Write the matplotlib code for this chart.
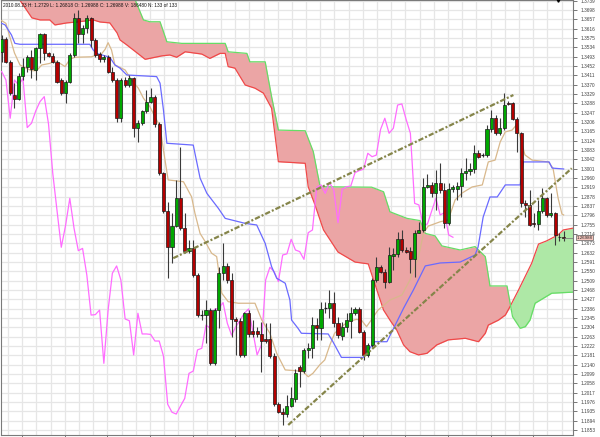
import numpy as np
import matplotlib
matplotlib.use('Agg')
import matplotlib.pyplot as plt
import matplotlib.transforms as mtransforms

plt.rcParams['font.family'] = ['Liberation Sans', 'DejaVu Sans']

header = "2010.08.23 H: 1.2729 L: 1.26818 O: 1.26988 C: 1.26988 V: 186480 N: 133 of 133"

# daily candles, oldest first
opens = [1.3516, 1.3570, 1.3472, 1.3327, 1.3308, 1.3409, 1.3450, 1.3491, 1.3435, 1.3530,
         1.3592, 1.3508, 1.3498, 1.3472, 1.3391, 1.3332, 1.3384, 1.3501, 1.3662, 1.3592,
         1.3618, 1.3662, 1.3567, 1.3504, 1.3482, 1.3491, 1.3428, 1.3391, 1.3223, 1.3391,
         1.3369, 1.3398, 1.3182, 1.3201, 1.3255, 1.3296, 1.3318, 1.3198, 1.2981, 1.2817,
         1.2656, 1.2751, 1.2871, 1.2739, 1.2641, 1.2651, 1.2534, 1.2358, 1.2358, 1.2380,
         1.2146, 1.2380, 1.2542, 1.2574, 1.2512, 1.2341, 1.2333, 1.2183, 1.2366, 1.2288,
         1.2288, 1.2273, 1.2251, 1.2251, 1.2178, 1.1966, 1.1931, 1.1923, 1.1958, 1.1991,
         1.2128, 1.2112, 1.2205, 1.2212, 1.2314, 1.2300, 1.2388, 1.2388, 1.2413, 1.2322,
         1.2266, 1.2307, 1.2333, 1.2366, 1.2385, 1.2285, 1.2183, 1.2227, 1.2512, 1.2568,
         1.2549, 1.2505, 1.2618, 1.2627, 1.2691, 1.2644, 1.2640, 1.2603, 1.2720, 1.2732,
         1.2919, 1.2930, 1.2893, 1.2940, 1.2908, 1.2764, 1.2911, 1.2911, 1.2925, 1.2984,
         1.2993, 1.2999, 1.3069, 1.3061, 1.3061, 1.3174, 1.3223, 1.3157, 1.3179, 1.3289,
         1.3289, 1.3218, 1.3157, 1.2849, 1.2842, 1.2764, 1.2758, 1.2815, 1.2871, 1.2798,
         1.2808, 1.2703, 1.2703]
highs = [1.3589, 1.3582, 1.3479, 1.3376, 1.3420, 1.3486, 1.3501, 1.3523, 1.3538, 1.3596,
         1.3596, 1.3516, 1.3508, 1.3479, 1.3398, 1.3391, 1.3508, 1.3684, 1.3699, 1.3633,
         1.3677, 1.3669, 1.3574, 1.3516, 1.3501, 1.3501, 1.3450, 1.3398, 1.3398, 1.3406,
         1.3413, 1.3406, 1.3215, 1.3259, 1.3347, 1.3355, 1.3325, 1.3208, 1.2988, 1.2856,
         1.2805, 1.2952, 1.3098, 1.2805, 1.2688, 1.2688, 1.2542, 1.2380, 1.2424, 1.2388,
         1.2388, 1.2571, 1.2673, 1.2585, 1.2542, 1.2351, 1.2344, 1.2373, 1.2380, 1.2336,
         1.2307, 1.2329, 1.2322, 1.2322, 1.2190, 1.1978, 1.1948, 1.2007, 1.2043, 1.2120,
         1.2139, 1.2212, 1.2234, 1.2351, 1.2344, 1.2417, 1.2417, 1.2468, 1.2461, 1.2351,
         1.2329, 1.2366, 1.2395, 1.2395, 1.2395, 1.2292, 1.2234, 1.2520, 1.2615, 1.2578,
         1.2559, 1.2659, 1.2651, 1.2725, 1.2732, 1.2659, 1.2659, 1.2732, 1.2768, 1.2959,
         1.2980, 1.2944, 1.2996, 1.3025, 1.2937, 1.2937, 1.2930, 1.2944, 1.3003, 1.3047,
         1.3025, 1.3105, 1.3083, 1.3069, 1.3193, 1.3259, 1.3237, 1.3223, 1.3335, 1.3300,
         1.3296, 1.3230, 1.3164, 1.2864, 1.2908, 1.2805, 1.2864, 1.2915, 1.2878, 1.2893,
         1.2812, 1.2720, 1.2729]
lows = [1.3472, 1.3464, 1.3325, 1.3267, 1.3303, 1.3391, 1.3428, 1.3398, 1.3391, 1.3464,
        1.3479, 1.3494, 1.3464, 1.3376, 1.3325, 1.3289, 1.3376, 1.3494, 1.3552, 1.3552,
        1.3596, 1.3538, 1.3494, 1.3472, 1.3472, 1.3420, 1.3384, 1.3208, 1.3208, 1.3362,
        1.3362, 1.3142, 1.3120, 1.3194, 1.3245, 1.3289, 1.3186, 1.2974, 1.2805, 1.2520,
        1.2585, 1.2747, 1.2732, 1.2629, 1.2629, 1.2527, 1.2351, 1.2336, 1.2234, 1.2139,
        1.2139, 1.2300, 1.2512, 1.2498, 1.2263, 1.2183, 1.2175, 1.2175, 1.2263, 1.2263,
        1.2263, 1.2109, 1.2234, 1.2168, 1.1958, 1.1926, 1.1875, 1.1912, 1.1953, 1.1978,
        1.2043, 1.2102, 1.2168, 1.2168, 1.2248, 1.2248, 1.2366, 1.2344, 1.2307, 1.2256,
        1.2248, 1.2285, 1.2256, 1.2358, 1.2281, 1.2161, 1.2175, 1.2219, 1.2505, 1.2542,
        1.2476, 1.2498, 1.2556, 1.2615, 1.2637, 1.2629, 1.2542, 1.2527, 1.2717, 1.2725,
        1.2915, 1.2878, 1.2820, 1.2893, 1.2739, 1.2754, 1.2900, 1.2864, 1.2878, 1.2952,
        1.2974, 1.2981, 1.3047, 1.3054, 1.3054, 1.3164, 1.3149, 1.3149, 1.3171, 1.3280,
        1.3215, 1.3076, 1.2834, 1.2791, 1.2749, 1.2747, 1.2732, 1.2805, 1.2791, 1.2791,
        1.2666, 1.2685, 1.26818]
closes = [1.3570, 1.3472, 1.3332, 1.3308, 1.3409, 1.3450, 1.3491, 1.3439, 1.3530, 1.3592,
          1.3508, 1.3498, 1.3472, 1.3384, 1.3332, 1.3384, 1.3501, 1.3662, 1.3592, 1.3618,
          1.3662, 1.3567, 1.3501, 1.3483, 1.3491, 1.3428, 1.3391, 1.3223, 1.3391, 1.3369,
          1.3398, 1.3182, 1.3201, 1.3255, 1.3296, 1.3318, 1.3198, 1.2981, 1.2817, 1.2656,
          1.2751, 1.2871, 1.2739, 1.2641, 1.2651, 1.2534, 1.2358, 1.2360, 1.2380, 1.2146,
          1.2380, 1.2542, 1.2574, 1.2512, 1.2341, 1.2333, 1.2183, 1.2366, 1.2275, 1.2275,
          1.2273, 1.2244, 1.2244, 1.2178, 1.1966, 1.1931, 1.1923, 1.1958, 1.1992, 1.2102,
          1.2112, 1.2205, 1.2212, 1.2314, 1.2300, 1.2383, 1.2388, 1.2413, 1.2322, 1.2270,
          1.2307, 1.2336, 1.2366, 1.2385, 1.2285, 1.2183, 1.2227, 1.2512, 1.2568, 1.2549,
          1.2505, 1.2622, 1.2627, 1.2691, 1.2644, 1.2637, 1.2603, 1.2720, 1.2732, 1.2919,
          1.2930, 1.2893, 1.2940, 1.2908, 1.2764, 1.2911, 1.2922, 1.2925, 1.2984, 1.2993,
          1.2999, 1.3069, 1.3054, 1.3061, 1.3174, 1.3223, 1.3157, 1.3179, 1.3281, 1.3286,
          1.3218, 1.3157, 1.2849, 1.2842, 1.2754, 1.2758, 1.2815, 1.2871, 1.2798, 1.2808,
          1.2710, 1.2700, 1.26988]

# ichimoku lines as (bar, price) vertices
tenkan_x = [0, 1, 2, 3, 4.3, 5.9, 7, 8.2, 9.4, 11.3, 12.5, 13.7, 14.9, 16, 17.2, 21.1, 22.3, 23.1,
            24.3, 25, 25.8, 26.6, 27.4, 29, 30.5, 32.1, 33.3, 34.8, 36, 37.2, 38, 39.1, 42.7, 44.6,
            45.4, 46.6, 47.8, 49.3, 50.5, 51.7, 53.2, 55.6, 59.5, 61.1, 63, 64.6, 66.6, 68.9, 70.8,
            72, 73.1, 74.7, 75.9, 77.1, 78.2, 79.8, 81.4, 83.3, 84.5, 85.7, 86.8, 88.4, 91.2, 94,
            95.9, 97.9, 99.1, 100.2, 103, 104.9, 106.5, 108.2, 110.5, 112.9, 114.3, 115.9, 117.1,
            118.3, 119.9, 121.1, 121.5, 122.9, 124.6, 128.4, 129.5, 130.7, 131.6, 132]
tenkan = [1.3652, 1.3640, 1.3575, 1.3510, 1.3457, 1.3442, 1.3432, 1.3432, 1.3457, 1.3464, 1.3475,
          1.3464, 1.3450, 1.3482, 1.3491, 1.3493, 1.3501, 1.3497, 1.3526, 1.3555, 1.3523, 1.3457,
          1.3450, 1.3435, 1.3391, 1.3355, 1.3311, 1.3274, 1.3230, 1.3186, 1.3083, 1.2952, 1.2944,
          1.2878, 1.2805, 1.2717, 1.2681, 1.2630, 1.2615, 1.2454, 1.2417, 1.2410, 1.2410, 1.2336,
          1.2278, 1.2190, 1.2117, 1.2114, 1.2109, 1.2087, 1.2102, 1.2139, 1.2161, 1.2227, 1.2278,
          1.2307, 1.2329, 1.2339, 1.2336, 1.2307, 1.2336, 1.2380, 1.2424, 1.2446, 1.2512, 1.2613,
          1.2719, 1.2749, 1.2768, 1.2776, 1.2864, 1.2895, 1.2921, 1.2930, 1.3031, 1.3039, 1.3119,
          1.3163, 1.3171, 1.3198, 1.3163, 1.3062, 1.3039, 1.3031, 1.3004, 1.2872, 1.2802, 1.2798]

kijun_x = [0, 0.8, 2.3, 3.1, 4.3, 20.7, 21.5, 22.3, 25.4, 26.6, 27.8, 29.4, 36.4, 37.2, 38, 38.8,
           45, 46.6, 48.2, 50.9, 52.5, 57.2, 59.9, 61.9, 63.4, 64.6, 66.6, 67.7, 68.1, 69.6, 70.4,
           76.7, 77.8, 79.8, 84.9, 87.6, 90.5, 94.4, 96.7, 99.5, 103, 107.7, 111.2, 111.9, 113.1,
           114.7, 116.4, 118.3, 121.8, 122.5, 128.6, 129.3, 132]
kijun = [1.3640, 1.3633, 1.3589, 1.3552, 1.3548, 1.3548, 1.3523, 1.3508, 1.3491, 1.3457, 1.3443,
         1.3413, 1.3406, 1.3377, 1.3259, 1.3113, 1.3105, 1.2960, 1.2893, 1.2827, 1.2783, 1.2761,
         1.2754, 1.2673, 1.2571, 1.2520, 1.2498, 1.2424, 1.2336, 1.2300, 1.2278, 1.2275, 1.2241,
         1.2172, 1.2172, 1.2241, 1.2241, 1.2388, 1.2468, 1.2574, 1.2587, 1.2591, 1.2622, 1.2657,
         1.2789, 1.2877, 1.2877, 1.2930, 1.2930, 1.3031, 1.3031, 1.3004, 1.3000]

span_a_x = [0, 7.1, 9, 11.3, 12.5, 15.3, 17.7, 21.5, 23.1, 25.4, 27.1, 27.8, 29.4, 31.8, 33.7,
            37.6, 39.5, 41.1, 43.1, 47, 48.9, 51.3, 52.5, 53.2, 54.8, 57.2, 59.5, 61.5, 63.4, 65,
            71.3, 72, 73.6, 75.6, 79, 83, 86.1, 89.7, 91.2, 92.8, 94.4, 95.9, 97.9, 99.9, 102.2,
            104.9, 108.9, 112, 113.6, 114.3, 116.7, 118.3, 119.2, 121.4, 124.5, 126.1, 128, 130.7,
            131.9, 134.5]
span_a = [1.3860, 1.3664, 1.3655, 1.3655, 1.3633, 1.3642, 1.3646, 1.3655, 1.3646, 1.3642, 1.3598,
          1.3567, 1.3545, 1.3510, 1.3482, 1.3497, 1.3501, 1.3491, 1.3515, 1.3505, 1.3486, 1.3508,
          1.3508, 1.3450, 1.3443, 1.3369, 1.3355, 1.3333, 1.3267, 1.3032, 1.3025, 1.2922, 1.2842,
          1.2732, 1.2635, 1.2591, 1.2583, 1.2380, 1.2336, 1.2292, 1.2227, 1.2197, 1.2183, 1.2190,
          1.2227, 1.2249, 1.2256, 1.2241, 1.2278, 1.2314, 1.2336, 1.2358, 1.2388, 1.2468, 1.2586,
          1.2670, 1.2684, 1.2710, 1.2732, 1.2741]

span_b_x = [0, 29, 33.3, 34.8, 37.2, 38.8, 42.3, 52.5, 53.2, 57.6, 58.3, 61.9, 63.4, 65, 71.3,
            73.2, 74.8, 86.9, 89.7, 91.2, 95.2, 98.3, 99.5, 101.8, 103.4, 107.7, 111.2, 113.6,
            114.7, 118.7, 120, 121.8, 123, 124.1, 125.3, 129.2, 134.5]
span_b = [1.3920, 1.3850, 1.3655, 1.3647, 1.3647, 1.3559, 1.3552, 1.3552, 1.3515, 1.3508, 1.3471,
          1.3471, 1.3318, 1.3171, 1.3168, 1.3076, 1.2922, 1.2920, 1.2900, 1.2812, 1.2783, 1.2773,
          1.2717, 1.2706, 1.2662, 1.2644, 1.2659, 1.2615, 1.2486, 1.2486, 1.2351, 1.2300, 1.2307,
          1.2336, 1.2410, 1.2454, 1.2459]

chikou_shift = 25

# hand drawn trend lines (bar, price)
trend_upper_x = [40.3, 120.2]
trend_upper = [1.2608, 1.3325]
trend_lower_x = [67.3, 133.9]
trend_lower = [1.1875, 1.3003]

y_ticks = np.round(1.1853 + 0.0041 * np.arange(47), 4)

fig = plt.figure(figsize=(6, 4.37), dpi=100)
ax = fig.add_axes([1 / 600, 2 / 437, 572 / 600, 435 / 437])
ax.set_xlim(-0.16, 134.2)
ax.set_ylim(1.1831, 1.37426)

# grid
for y in y_ticks:
    ax.axhline(y, color='#e6e6e6', lw=0.9, zorder=0)
for gx in np.arange(1.5, 135, 10 / 3):
    ax.axvline(gx, color='#e6e6e6', lw=0.9, zorder=0)

# cloud
xx = np.linspace(0, 134.5, 3000)
aa = np.interp(xx, span_a_x, span_a)
bb = np.interp(xx, span_b_x, span_b)
ax.fill_between(xx, aa, bb, where=bb >= aa, interpolate=True, color='#eba5a5', lw=0, zorder=1)
ax.fill_between(xx, aa, bb, where=aa > bb, interpolate=True, color='#aee8a6', lw=0, zorder=1)
ax.plot(span_a_x, span_a, color='#f04848', lw=0.9, zorder=2)
ax.plot(span_b_x, span_b, color='#66dd66', lw=0.9, zorder=2)

# chikou, tenkan, kijun
n = len(closes)
ch_y = closes[chikou_shift:n - 1]
ax.plot(np.arange(len(ch_y)), ch_y, color='#ff6cff', lw=0.9, zorder=3)
ax.plot(tenkan_x, tenkan, color='#d8b88c', lw=0.9, zorder=3)
ax.plot(kijun_x, kijun, color='#6a6aff', lw=0.9, zorder=3)

# candles
idx = np.arange(n)
o = np.array(opens)
c = np.array(closes)
ax.vlines(idx, lows, highs, color='#3a3a3a', lw=0.8, zorder=4)
up = c >= o
body = np.abs(c - o)
doji = body < 0.00025
bottoms = np.minimum(o, c)
ax.bar(idx[up & ~doji], body[up & ~doji], bottom=bottoms[up & ~doji], width=0.72,
       color='#00a800', edgecolor='#1a1a1a', lw=0.5, zorder=5)
ax.bar(idx[~up & ~doji], body[~up & ~doji], bottom=bottoms[~up & ~doji], width=0.72,
       color='#b40000', edgecolor='#1a1a1a', lw=0.5, zorder=5)
ax.hlines(c[doji], idx[doji] - 0.38, idx[doji] + 0.38, color='#1a1a1a', lw=0.9, zorder=5)

# trend lines
ax.plot(trend_upper_x, trend_upper, color='#85854a', lw=1.6, dashes=(2.4, 0.9, 0.9, 0.9), zorder=6)
ax.plot(trend_lower_x, trend_lower, color='#85854a', lw=1.6, dashes=(2.4, 0.9, 0.9, 0.9), zorder=6)

# last price line and tag
ax.hlines(closes[-1], n - 1, 134.2, color='#808080', lw=0.6, zorder=6)
trans = mtransforms.blended_transform_factory(ax.transAxes, ax.transData)
ax.text(1.006, closes[-1], '%.5f' % closes[-1], transform=trans, ha='left', va='center',
        fontsize=3.2, color='#202020', clip_on=False, zorder=9,
        bbox=dict(boxstyle='square,pad=0.15', fc='#f7c6be', ec='#606060', lw=0.5))
ax.plot([n - 2.3], [1.37426], marker='v', color='black', ms=2.5, clip_on=False, zorder=7)

ax.text(0.004, 0.994, header, transform=ax.transAxes, ha='left', va='top',
        fontsize=3.4, color='#101010', zorder=8)

# axes styling
ax.yaxis.tick_right()
ax.set_yticks(y_ticks)
ax.set_yticklabels(['%.4f' % v for v in y_ticks])
ax.tick_params(axis='y', direction='out', length=3, width=0.5, colors='#404040',
               labelsize=3.4, pad=2.5)
ax.set_xticks(np.arange(4.83, 134, 10))
ax.set_xticklabels([])
ax.tick_params(axis='x', direction='out', length=2, width=0.5, colors='#404040')
for s in ax.spines.values():
    s.set_color('#7a7a7a')
    s.set_linewidth(0.8)

fig.savefig('out.png', dpi=100, facecolor='white')
